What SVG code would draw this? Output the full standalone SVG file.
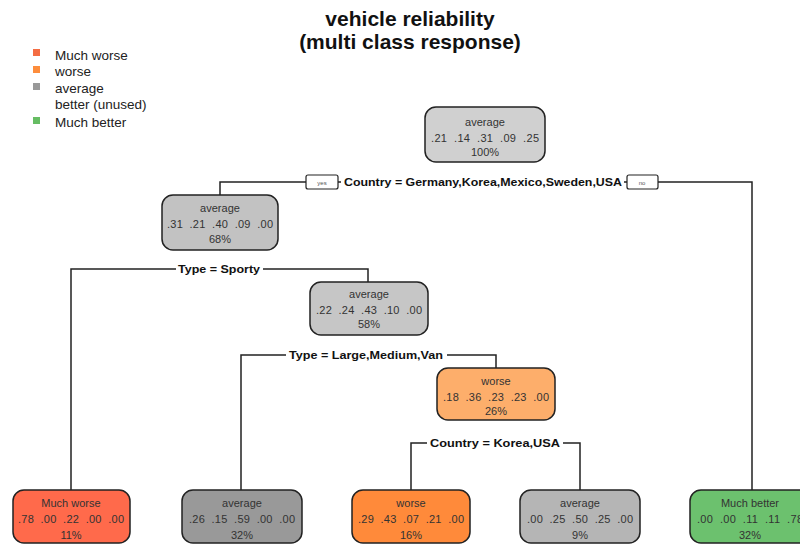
<svg xmlns="http://www.w3.org/2000/svg" width="800" height="544" viewBox="0 0 800 544">
  <style>
    .title { font-family: "Liberation Sans", Arial, sans-serif; font-weight: bold; font-size: 21px; fill: #111; text-anchor: middle; }
    .legend { font-family: "Liberation Sans", Arial, sans-serif; font-size: 13.5px; fill: #222; }
    .box { stroke: #222; stroke-width: 1.5; }
    .nt { font-family: "Liberation Sans", Arial, sans-serif; font-size: 11px; fill: #333; text-anchor: middle; }
    .split { font-family: "Liberation Sans", Arial, sans-serif; font-weight: bold; font-size: 11.5px; fill: #111; text-anchor: middle; }
    .edge { fill: none; stroke: #222; stroke-width: 1.5; }
    .tag { fill: #fff; stroke: #222; stroke-width: 1.2; }
    .tagt { font-family: "Liberation Sans", Arial, sans-serif; font-size: 6px; fill: #555; text-anchor: middle; }
    .lblbg { fill: #fff; }
  </style>

  <!-- title -->
  <text class="title" x="410" y="26">vehicle reliability</text>
  <text class="title" x="410" y="49">(multi class response)</text>

  <!-- legend -->
  <g id="legend">
    <rect x="33" y="49" width="7" height="7" fill="#F46D43"/>
    <rect x="33" y="66" width="7" height="7" fill="#FD8D3C"/>
    <rect x="33" y="83" width="7" height="7" fill="#999999"/>
    <rect x="33" y="117" width="7" height="7" fill="#66BD63"/>
    <text class="legend" x="55" y="60">Much worse</text>
    <text class="legend" x="55" y="76">worse</text>
    <text class="legend" x="55" y="93">average</text>
    <text class="legend" x="55" y="109">better (unused)</text>
    <text class="legend" x="55" y="127">Much better</text>
  </g>

  <!-- connectors and split labels -->
  <g id="connectors">
    <!-- split 1 -->
    <path class="edge" d="M220,195 V182 H752 V490"/>
    <rect class="lblbg" x="341" y="175" width="283" height="14"/>
    <text class="split" x="483" y="186" textLength="278" lengthAdjust="spacingAndGlyphs">Country = Germany,Korea,Mexico,Sweden,USA</text>
    <rect class="tag" x="306" y="175" width="32" height="14" rx="2"/>
    <text class="tagt" x="322" y="185">yes</text>
    <rect class="tag" x="627" y="175" width="31" height="14" rx="2"/>
    <text class="tagt" x="642" y="185">no</text>

    <!-- split 2 -->
    <path class="edge" d="M71,490 V269 H368 V282"/>
    <rect class="lblbg" x="176" y="262" width="87" height="14"/>
    <text class="split" x="219" y="273" textLength="82" lengthAdjust="spacingAndGlyphs">Type = Sporty</text>

    <!-- split 3 -->
    <path class="edge" d="M241,490 V355 H496 V368"/>
    <rect class="lblbg" x="286" y="348" width="161" height="14"/>
    <text class="split" x="366" y="359" textLength="154" lengthAdjust="spacingAndGlyphs">Type = Large,Medium,Van</text>

    <!-- split 4 -->
    <path class="edge" d="M411,490 V443 H580 V490"/>
    <rect class="lblbg" x="427" y="436" width="136" height="14"/>
    <text class="split" x="495" y="447" textLength="130" lengthAdjust="spacingAndGlyphs">Country = Korea,USA</text>
  </g>

  <!-- internal nodes -->
  <g id="node1">
    <rect class="box" x="425" y="107" width="120" height="55" rx="11" fill="#D0D0D0"/>
    <text class="nt" x="485" y="126">average</text>
    <text class="nt" x="485" y="142" xml:space="preserve" textLength="108">.21  .14  .31  .09  .25</text>
    <text class="nt" x="485" y="156">100%</text>
  </g>
  <g id="node2">
    <rect class="box" x="162" y="195" width="116" height="55" rx="11" fill="#C2C2C2"/>
    <text class="nt" x="220" y="212">average</text>
    <text class="nt" x="220" y="228" xml:space="preserve" textLength="106">.31  .21  .40  .09  .00</text>
    <text class="nt" x="220" y="243">68%</text>
  </g>
  <g id="node3">
    <rect class="box" x="310" y="282" width="118" height="53" rx="11" fill="#C6C6C6"/>
    <text class="nt" x="369" y="298">average</text>
    <text class="nt" x="369" y="314" xml:space="preserve" textLength="106">.22  .24  .43  .10  .00</text>
    <text class="nt" x="369" y="328">58%</text>
  </g>
  <g id="node4">
    <rect class="box" x="437" y="368" width="118" height="52" rx="11" fill="#FDAE6B"/>
    <text class="nt" x="496" y="385">worse</text>
    <text class="nt" x="496" y="401" xml:space="preserve" textLength="106">.18  .36  .23  .23  .00</text>
    <text class="nt" x="496" y="415">26%</text>
  </g>

  <!-- leaves -->
  <g id="leaf1">
    <rect class="box" x="13" y="490" width="117" height="53" rx="11" fill="#FF6A4B"/>
    <text class="nt" x="71" y="507">Much worse</text>
    <text class="nt" x="71" y="523" xml:space="preserve" textLength="106">.78  .00  .22  .00  .00</text>
    <text class="nt" x="71" y="539">11%</text>
  </g>
  <g id="leaf2">
    <rect class="box" x="182" y="490" width="120" height="53" rx="11" fill="#999999"/>
    <text class="nt" x="242" y="507">average</text>
    <text class="nt" x="242" y="523" xml:space="preserve" textLength="106">.26  .15  .59  .00  .00</text>
    <text class="nt" x="242" y="539">32%</text>
  </g>
  <g id="leaf3">
    <rect class="box" x="352" y="490" width="118" height="53" rx="11" fill="#FF8A3A"/>
    <text class="nt" x="411" y="507">worse</text>
    <text class="nt" x="411" y="523" xml:space="preserve" textLength="106">.29  .43  .07  .21  .00</text>
    <text class="nt" x="411" y="539">16%</text>
  </g>
  <g id="leaf4">
    <rect class="box" x="520" y="490" width="120" height="53" rx="11" fill="#B5B5B5"/>
    <text class="nt" x="580" y="507">average</text>
    <text class="nt" x="580" y="523" xml:space="preserve" textLength="106">.00  .25  .50  .25  .00</text>
    <text class="nt" x="580" y="539">9%</text>
  </g>
  <g id="leaf5">
    <rect class="box" x="690" y="490" width="120" height="53" rx="11" fill="#6CC16E"/>
    <text class="nt" x="750" y="507">Much better</text>
    <text class="nt" x="750" y="523" xml:space="preserve" textLength="106">.00  .00  .11  .11  .78</text>
    <text class="nt" x="750" y="539">32%</text>
  </g>
</svg>
